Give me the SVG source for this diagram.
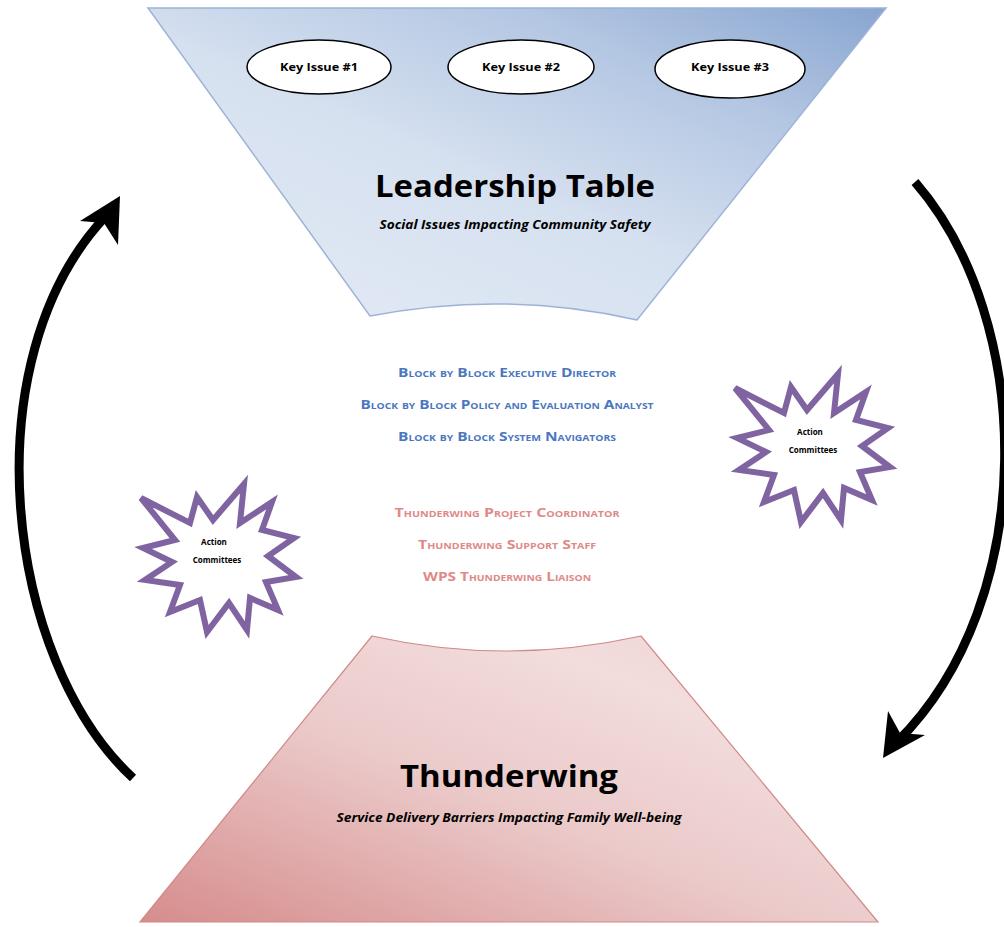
<svg xmlns="http://www.w3.org/2000/svg" width="1004" height="927" viewBox="0 0 1004 927">
<defs>
<linearGradient id="gTop" x1="0" y1="1" x2="1" y2="0">
<stop offset="0" stop-color="#e4ebf5"/>
<stop offset="0.45" stop-color="#d6e1f0"/>
<stop offset="0.75" stop-color="#b3c6e2"/>
<stop offset="1" stop-color="#88a5d0"/>
</linearGradient>
<linearGradient id="gBot" x1="0" y1="1" x2="1" y2="0">
<stop offset="0" stop-color="#d68c8c"/>
<stop offset="0.45" stop-color="#ebc9c9"/>
<stop offset="0.75" stop-color="#f2dcdc"/>
<stop offset="1" stop-color="#eed2d2"/>
</linearGradient>
<polygon id="star" points="141,498 190,523 197,497 213,520 244,484 240,523 272,502 262,530 294,538 268,556 296,577 266,582 278,610 250,598 247,630 229,603 207,632 200,600 170,612 180,585 145,580 172,562 143,548 175,540"/>
<style>
.title{font-family:"Open Sans","Liberation Sans",sans-serif;font-weight:bold;fill:#000}
.sub{font-family:"Open Sans","Liberation Sans",sans-serif;font-weight:bold;font-style:italic;font-size:12px;fill:#000}
.key{font-family:"Open Sans","Liberation Sans",sans-serif;font-weight:bold;font-size:11px;fill:#000}
.blue{font-family:"Open Sans","Liberation Sans",sans-serif;font-weight:bold;font-size:12px;font-variant:small-caps;fill:#4a77bf}
.red{font-family:"Open Sans","Liberation Sans",sans-serif;font-weight:bold;font-size:12px;font-variant:small-caps;fill:#de8a88}
.ac{font-family:"Open Sans","Liberation Sans",sans-serif;font-weight:bold;font-size:8px;fill:#000}
.starS{fill:#fff;stroke:#8064a2;stroke-width:6;stroke-linejoin:miter}
.oval{fill:#fff;stroke:#000;stroke-width:1.5}
.arc{fill:none;stroke:#000;stroke-width:9}
</style>
</defs>
<rect width="1004" height="927" fill="#fff"/>

<g id="leadership-table">
<path d="M148,8 L886,8 L637,320 Q505,290 370,316 Z" fill="url(#gTop)" stroke="#9cb3d6" stroke-width="1.5"/>
<text class="title" x="515" y="197" font-size="30" text-anchor="middle" textLength="280" lengthAdjust="spacingAndGlyphs">Leadership Table</text>
<text class="sub" x="515" y="229" text-anchor="middle" textLength="271" lengthAdjust="spacingAndGlyphs">Social Issues Impacting Community Safety</text>
</g>
<g id="key-issue-1">
<ellipse class="oval" cx="319" cy="67" rx="72" ry="27"/>
<text class="key" x="319" y="71" text-anchor="middle" textLength="78" lengthAdjust="spacingAndGlyphs">Key Issue #1</text>
</g>
<g id="key-issue-2">
<ellipse class="oval" cx="521" cy="67" rx="73" ry="27"/>
<text class="key" x="521" y="71" text-anchor="middle" textLength="78" lengthAdjust="spacingAndGlyphs">Key Issue #2</text>
</g>
<g id="key-issue-3">
<ellipse class="oval" cx="730" cy="69" rx="75" ry="29"/>
<text class="key" x="730" y="71" text-anchor="middle" textLength="78" lengthAdjust="spacingAndGlyphs">Key Issue #3</text>
</g>

<g id="thunderwing">
<path d="M372,636 Q506,666 641,636 L878,922 L140,922 Z" fill="url(#gBot)" stroke="#d08a88" stroke-width="1.2"/>
<text class="title" x="509" y="787" font-size="30" text-anchor="middle" textLength="218" lengthAdjust="spacingAndGlyphs">Thunderwing</text>
<text class="sub" x="509" y="822" text-anchor="middle" textLength="345" lengthAdjust="spacingAndGlyphs">Service Delivery Barriers Impacting Family Well-being</text>
</g>

<g id="staff">
<text class="blue" x="507" y="377" text-anchor="middle" textLength="218" lengthAdjust="spacingAndGlyphs">Block by Block Executive Director</text>
<text class="blue" x="507" y="409" text-anchor="middle" textLength="293" lengthAdjust="spacingAndGlyphs">Block by Block Policy and Evaluation Analyst</text>
<text class="blue" x="507" y="441" text-anchor="middle" textLength="218" lengthAdjust="spacingAndGlyphs">Block by Block System Navigators</text>
<text class="red" x="507" y="517" text-anchor="middle" textLength="225" lengthAdjust="spacingAndGlyphs">Thunderwing Project Coordinator</text>
<text class="red" x="507" y="549" text-anchor="middle" textLength="178" lengthAdjust="spacingAndGlyphs">Thunderwing Support Staff</text>
<text class="red" x="507" y="581" text-anchor="middle" textLength="168" lengthAdjust="spacingAndGlyphs">WPS Thunderwing Liaison</text>
</g>

<g id="action-committees-left">
<use href="#star" class="starS"/>
<text class="ac" x="214" y="545" text-anchor="middle">Action</text>
<text class="ac" x="217" y="563" text-anchor="middle">Committees</text>
</g>
<g id="action-committees-right">
<use href="#star" class="starS" transform="translate(594,-110)"/>
<text class="ac" x="810" y="435" text-anchor="middle">Action</text>
<text class="ac" x="813" y="453" text-anchor="middle">Committees</text>
</g>

<g id="connectors">
<path class="arc" d="M133,778 C 5,660 -30,360 106,216"/>
<polygon points="120,196 80,221 104,223 118,245" fill="#000"/>
<path class="arc" d="M915,182 C 1035,320 1040,600 897,742"/>
<polygon points="883,758 888,711 900,733 925,735" fill="#000"/>
</g>
</svg>
